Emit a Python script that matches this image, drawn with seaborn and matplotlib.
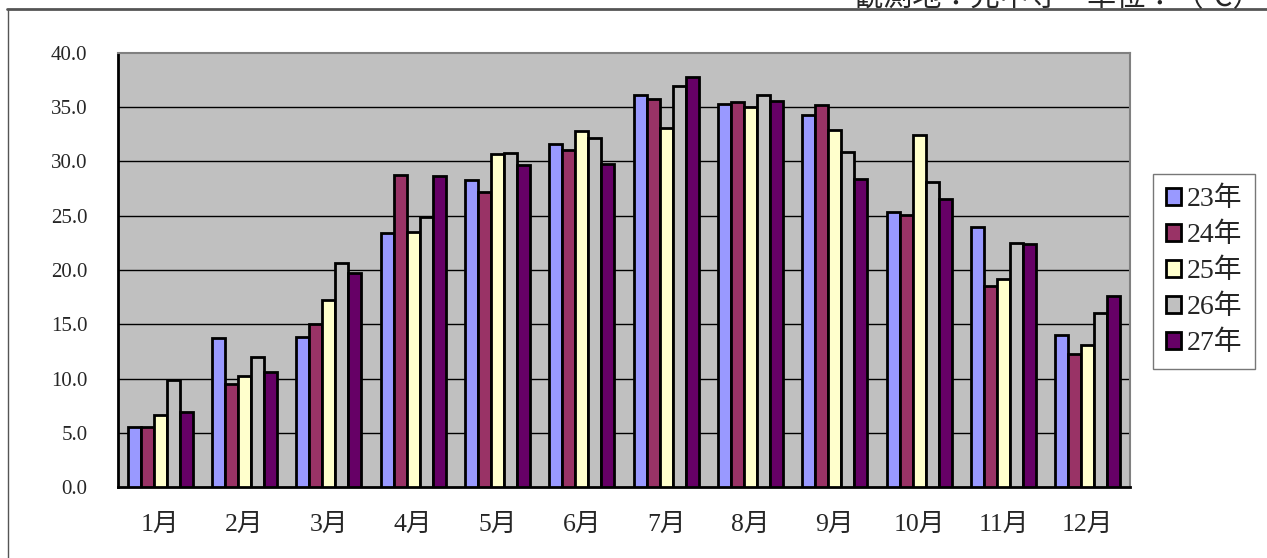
import numpy as np
import pandas as pd
import matplotlib
matplotlib.use("Agg")
import matplotlib.pyplot as plt
from matplotlib.patches import Patch
from matplotlib.lines import Line2D
import seaborn as sns

# Monthly maximum temperatures (°C) per year
months = ["1月", "2月", "3月", "4月", "5月", "6月",
          "7月", "8月", "9月", "10月", "11月", "12月"]
years = ["23年", "24年", "25年", "26年", "27年"]
t23 = [5.5, 13.7, 13.8, 23.4, 28.3, 31.6, 36.1, 35.3, 34.3, 25.3, 24.0, 14.0]
t24 = [5.5, 9.5, 15.0, 28.8, 27.2, 31.1, 35.8, 35.5, 35.2, 25.1, 18.5, 12.3]
t25 = [6.6, 10.2, 17.2, 23.5, 30.7, 32.8, 33.1, 35.0, 32.9, 32.4, 19.2, 13.1]
t26 = [9.9, 12.0, 20.6, 24.9, 30.8, 32.2, 37.0, 36.1, 30.9, 28.1, 22.5, 16.0]
t27 = [6.9, 10.6, 19.7, 28.7, 29.7, 29.8, 37.8, 35.6, 28.4, 26.5, 22.4, 17.6]
yticks = [0, 5, 10, 15, 20, 25, 30, 35, 40]
colors = ["#9999FF", "#993366", "#FFFFCC", "#C0C0C0", "#660066"]

df = pd.DataFrame({
    "month": months * 5,
    "year": np.repeat(years, len(months)),
    "temp": t23 + t24 + t25 + t26 + t27,
})

sns.set_style("white")
FONT = ["Liberation Serif", "Noto Sans CJK JP", "DejaVu Sans"]
plt.rcParams["font.family"] = FONT

W, H = 1267, 558
fig = plt.figure(figsize=(W / 100, H / 100), dpi=100)
ax = fig.add_axes([118 / W, 1 - 487 / H, (1130 - 118) / W, (487 - 53) / H])
ax.set_facecolor("#C0C0C0")

sns.barplot(data=df, x="month", y="temp", hue="year", order=months,
            hue_order=years, palette=colors, saturation=1, width=0.77,
            edgecolor="black", linewidth=2, legend=False, ax=ax, zorder=3)

ax.set_xlim(-0.5, len(months) - 0.5)
ax.set_ylim(0, 40)
ax.set_yticks(yticks)
ax.set_yticklabels([f"{v:.1f}" for v in yticks], fontsize=15)
ax.set_xticks(range(len(months)))
ax.set_xticklabels(months, fontsize=18.5)
ax.set_xticks(np.arange(-0.5, len(months), 1), minor=True)
ax.tick_params(axis="x", which="major", length=0, pad=19)
ax.tick_params(axis="x", which="minor", direction="in", length=6,
               width=1, color="black")
ax.tick_params(axis="y", which="major", direction="in", length=5,
               width=1.5, color="black", pad=22)
ax.set_xlabel("")
ax.set_ylabel("")

for v in yticks[1:-1]:
    ax.axhline(v, color="black", lw=1, zorder=1)

for side in ("left", "bottom"):
    ax.spines[side].set_color("black")
    ax.spines[side].set_linewidth(2)
for side in ("top", "right"):
    ax.spines[side].set_color("#808080")
    ax.spines[side].set_linewidth(1.5)
    ax.spines[side].set_visible(True)

handles = [Patch(facecolor=c, edgecolor="black", linewidth=2, label=y)
           for c, y in zip(colors, years)]
leg = fig.legend(handles=handles, loc="upper left",
                 bbox_to_anchor=(1153 / W, 1 - 174 / H),
                 fontsize=20, frameon=True, fancybox=False,
                 handlelength=0.55, handleheight=0.55, handletextpad=0.22,
                 labelspacing=0.38, borderpad=0.45, borderaxespad=0)
leg.get_frame().set_edgecolor("#555555")
leg.get_frame().set_linewidth(1)

# Outer chart frame
fig.add_artist(Line2D([7.5 / W, 7.5 / W], [0, 1 - 9 / H],
                      transform=fig.transFigure, color="#555555", lw=1))
fig.add_artist(Line2D([7 / W, 1], [1 - 9 / H, 1 - 9 / H],
                      transform=fig.transFigure, color="#555555", lw=2))

fig.text(1262 / W, 1 - 6 / H, "観測地：兄中寺　単位：（℃）",
         ha="right", va="baseline", fontsize=21, family=FONT)

fig.savefig("out.png", dpi=100, facecolor="white")
